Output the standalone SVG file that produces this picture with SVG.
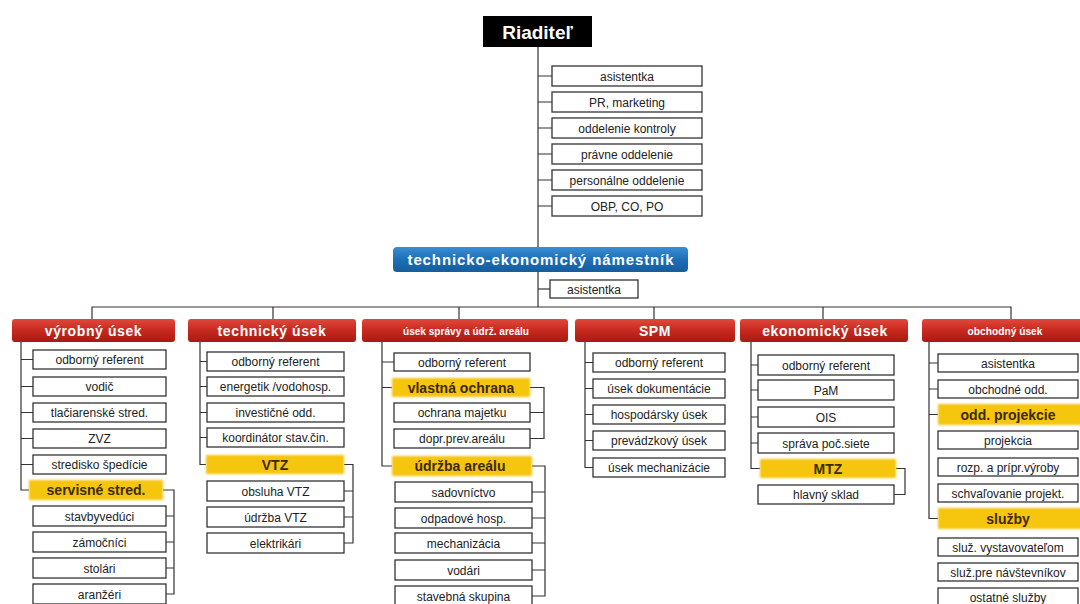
<svg xmlns="http://www.w3.org/2000/svg" width="1080" height="604" viewBox="0 0 1080 604">
  <defs>
    <linearGradient id="redGrad" x1="0" y1="0" x2="0" y2="1">
      <stop offset="0" stop-color="#e0483a"/>
      <stop offset="0.5" stop-color="#c8281e"/>
      <stop offset="1" stop-color="#a81a12"/>
    </linearGradient>
    <linearGradient id="blueGrad" x1="0" y1="0" x2="0" y2="1">
      <stop offset="0" stop-color="#3a8fd4"/>
      <stop offset="0.5" stop-color="#1d6fb8"/>
      <stop offset="1" stop-color="#165d9c"/>
    </linearGradient>
    <filter id="soft" x="-5%" y="-20%" width="110%" height="140%">
      <feGaussianBlur stdDeviation="0.9"/>
    </filter>
  </defs>
  <style>
    .box { fill: #ffffff; stroke: #333333; stroke-width: 1.3; }
    .hl { fill: #f6c510; filter: url(#soft); }
    .hdr { fill: url(#redGrad); }
    .line { fill: none; stroke: #333333; stroke-width: 1.2; }
    .t { font-family: "Liberation Sans", Arial, sans-serif; font-size: 12px; fill: #222222; text-anchor: middle; }
    .tb { font-family: "Liberation Sans", Arial, sans-serif; font-size: 14px; font-weight: bold; fill: #3a2a00; text-anchor: middle; }
    .th { font-family: "Liberation Sans", Arial, sans-serif; font-size: 14px; font-weight: bold; fill: #ffffff; text-anchor: middle; letter-spacing: 0.6px; }
    .ts { font-family: "Liberation Sans", Arial, sans-serif; font-size: 10px; font-weight: bold; fill: #ffffff; text-anchor: middle; }
  </style>

  <rect width="1080" height="604" fill="#ffffff"/>

  <!-- connectors -->
  <g id="connectors" class="line">
    <path d="M538 47 V307"/>
    <path d="M538 76 H552 M538 102 H552 M538 128 H552 M538 154 H552 M538 180 H552 M538 206 H552"/>
    <path d="M538 289 H550"/>
    <path d="M92 319 V307 H1011 V319 M273 307 V319 M459 307 V319 M654 307 V319 M823 307 V319"/>
    <!-- výrobný úsek -->
    <path d="M21 342 V490 H29"/>
    <path d="M21 359.5 H33 M21 386.5 H33 M21 412.5 H33 M21 438.5 H33 M21 464.5 H33"/>
    <path d="M163 490 H174 V594 H166 M166 516 H174 M166 542 H174 M166 568 H174"/>
    <!-- technický úsek -->
    <path d="M200 342 V464.5 H206"/>
    <path d="M200 361.5 H207 M200 386.5 H207 M200 412.5 H207 M200 437.5 H207"/>
    <path d="M344 464.5 H353 V543 H344 M344 491 H353 M344 517 H353"/>
    <!-- úsek správy a údržby areálu -->
    <path d="M382 342 V466 H392 M382 362 H394 M382 387.5 H392"/>
    <path d="M530 387.5 H544 V438.5 H530 M530 412.5 H544"/>
    <path d="M532 466 H545 V596 H532 M532 492 H545 M532 518 H545 M532 543 H545 M532 570 H545"/>
    <!-- SPM -->
    <path d="M585 342 V467.5 H593 M585 362.5 H593 M585 388.5 H593 M585 414.5 H593 M585 440.5 H593"/>
    <!-- ekonomický úsek -->
    <path d="M751 342 V468.5 H760 M751 365 H758 M751 390 H758 M751 417 H758 M751 443 H758"/>
    <path d="M896 468.5 H905 V494.5 H894"/>
    <!-- obchodný úsek -->
    <path d="M929 342 V518.5 H938 M929 363 H938 M929 389 H938 M929 414.5 H938"/>
  </g>

  <!-- top management -->
  <g id="riaditel">
    <rect x="483" y="16" width="109" height="31" fill="#000000"/>
    <text x="537.5" y="38.5" font-family="Liberation Sans, Arial, sans-serif" font-size="19" font-weight="bold" fill="#ffffff" text-anchor="middle">Riaditeľ</text>
  </g>
  <g id="r-asistentka"><rect class="box" x="552" y="66" width="150" height="20"/><text class="t" x="627" y="80.5">asistentka</text></g>
  <g id="r-pr"><rect class="box" x="552" y="92" width="150" height="20"/><text class="t" x="627" y="106.5">PR, marketing</text></g>
  <g id="r-kontrola"><rect class="box" x="552" y="118" width="150" height="20"/><text class="t" x="627" y="132.5">oddelenie kontroly</text></g>
  <g id="r-pravne"><rect class="box" x="552" y="144" width="150" height="20"/><text class="t" x="627" y="158.5">právne oddelenie</text></g>
  <g id="r-personalne"><rect class="box" x="552" y="170" width="150" height="20"/><text class="t" x="627" y="184.5">personálne oddelenie</text></g>
  <g id="r-obp"><rect class="box" x="552" y="196" width="150" height="20"/><text class="t" x="627" y="210.5">OBP, CO, PO</text></g>

  <g id="namestnik">
    <rect x="393" y="247" width="295" height="25" rx="4" fill="url(#blueGrad)"/>
    <text x="540.5" y="265" font-family="Liberation Sans, Arial, sans-serif" font-size="15" font-weight="bold" fill="#ffffff" text-anchor="middle" textLength="266" lengthAdjust="spacing">technicko-ekonomický námestník</text>
  </g>
  <g id="n-asistentka"><rect class="box" x="550" y="280" width="88" height="18"/><text class="t" x="594" y="293.5">asistentka</text></g>

  <!-- department headers -->
  <g id="h-vyrobny"><rect class="hdr" x="12" y="319" width="163" height="23" rx="3"/><text class="th" x="93.5" y="335.5">výrobný úsek</text></g>
  <g id="h-technicky"><rect class="hdr" x="188" y="319" width="168" height="23" rx="3"/><text class="th" x="272" y="335.5">technický úsek</text></g>
  <g id="h-spravy"><rect class="hdr" x="362" y="319" width="206" height="23" rx="3"/><text class="ts" x="466" y="334.5" textLength="126" lengthAdjust="spacingAndGlyphs">úsek správy a údrž. areálu</text></g>
  <g id="h-spm"><rect class="hdr" x="575" y="319" width="160" height="23" rx="3"/><text class="th" x="655" y="335.5">SPM</text></g>
  <g id="h-ekonomicky"><rect class="hdr" x="740" y="319" width="168" height="23" rx="3"/><text class="th" x="825" y="335.5">ekonomický úsek</text></g>
  <g id="h-obchodny"><rect class="hdr" x="922" y="319" width="162" height="23" rx="3"/><text class="ts" x="1005" y="334.5" textLength="75" lengthAdjust="spacingAndGlyphs">obchodný úsek</text></g>

  <!-- výrobný úsek -->
  <g id="v-referent"><rect class="box" x="33" y="350" width="133" height="19"/><text class="t" x="99.5" y="364">odborný referent</text></g>
  <g id="v-vodic"><rect class="box" x="33" y="377" width="133" height="19"/><text class="t" x="99.5" y="391">vodič</text></g>
  <g id="v-tlaciarenske"><rect class="box" x="33" y="403" width="133" height="19"/><text class="t" x="99.5" y="417">tlačiarenské stred.</text></g>
  <g id="v-zvz"><rect class="box" x="33" y="429" width="133" height="19"/><text class="t" x="99.5" y="443">ZVZ</text></g>
  <g id="v-spedicia"><rect class="box" x="33" y="455" width="133" height="19"/><text class="t" x="99.5" y="469">stredisko špedície</text></g>
  <g id="v-servisne"><rect class="hl" x="29" y="480" width="134" height="20"/><text class="tb" x="96" y="495">servisné stred.</text></g>
  <g id="v-stavbyveduci"><rect class="box" x="33" y="506" width="133" height="20"/><text class="t" x="99.5" y="520.5">stavbyvedúci</text></g>
  <g id="v-zamocnici"><rect class="box" x="33" y="532" width="133" height="20"/><text class="t" x="99.5" y="546.5">zámočníci</text></g>
  <g id="v-stolari"><rect class="box" x="33" y="558" width="133" height="20"/><text class="t" x="99.5" y="572.5">stolári</text></g>
  <g id="v-aranzeri"><rect class="box" x="33" y="584" width="133" height="20"/><text class="t" x="99.5" y="598.5">aranžéri</text></g>

  <!-- technický úsek -->
  <g id="t-referent"><rect class="box" x="207" y="352" width="137" height="19"/><text class="t" x="275.5" y="366">odborný referent</text></g>
  <g id="t-energetik"><rect class="box" x="207" y="377" width="137" height="19"/><text class="t" x="275.5" y="391">energetik /vodohosp.</text></g>
  <g id="t-investicne"><rect class="box" x="207" y="403" width="137" height="19"/><text class="t" x="275.5" y="417">investičné odd.</text></g>
  <g id="t-koordinator"><rect class="box" x="207" y="428" width="137" height="19"/><text class="t" x="275.5" y="442">koordinátor stav.čin.</text></g>
  <g id="t-vtz"><rect class="hl" x="206" y="455" width="138" height="19"/><text class="tb" x="275" y="469.5">VTZ</text></g>
  <g id="t-obsluha"><rect class="box" x="207" y="481" width="137" height="20"/><text class="t" x="275.5" y="495.5">obsluha VTZ</text></g>
  <g id="t-udrzba"><rect class="box" x="207" y="507" width="137" height="20"/><text class="t" x="275.5" y="521.5">údržba VTZ</text></g>
  <g id="t-elektrikari"><rect class="box" x="207" y="533" width="137" height="20"/><text class="t" x="275.5" y="547.5">elektrikári</text></g>

  <!-- úsek správy a údržby areálu -->
  <g id="s-referent"><rect class="box" x="394" y="353" width="136" height="18"/><text class="t" x="462" y="366.5">odborný referent</text></g>
  <g id="s-ochrana"><rect class="hl" x="392" y="378" width="138" height="19"/><text class="tb" x="461" y="392.5">vlastná ochrana</text></g>
  <g id="s-majetok"><rect class="box" x="394" y="403" width="136" height="19"/><text class="t" x="462" y="417">ochrana majetku</text></g>
  <g id="s-dopr"><rect class="box" x="394" y="429" width="136" height="19"/><text class="t" x="462" y="443">dopr.prev.areálu</text></g>
  <g id="s-udrzba"><rect class="hl" x="392" y="456" width="140" height="20"/><text class="tb" x="460" y="471">údržba areálu</text></g>
  <g id="s-sadovnictvo"><rect class="box" x="395" y="482" width="137" height="20"/><text class="t" x="463.5" y="496.5">sadovníctvo</text></g>
  <g id="s-odpadove"><rect class="box" x="395" y="508" width="137" height="20"/><text class="t" x="463.5" y="522.5">odpadové hosp.</text></g>
  <g id="s-mechanizacia"><rect class="box" x="395" y="533" width="137" height="20"/><text class="t" x="463.5" y="547.5">mechanizácia</text></g>
  <g id="s-vodari"><rect class="box" x="395" y="560" width="137" height="20"/><text class="t" x="463.5" y="574.5">vodári</text></g>
  <g id="s-stavebna"><rect class="box" x="395" y="586" width="137" height="20"/><text class="t" x="463.5" y="600.5">stavebná skupina</text></g>

  <!-- SPM -->
  <g id="p-referent"><rect class="box" x="593" y="353" width="132" height="19"/><text class="t" x="659" y="367">odborný referent</text></g>
  <g id="p-dokumentacia"><rect class="box" x="593" y="379" width="132" height="19"/><text class="t" x="659" y="393">úsek dokumentácie</text></g>
  <g id="p-hospodarsky"><rect class="box" x="593" y="405" width="132" height="19"/><text class="t" x="659" y="419">hospodársky úsek</text></g>
  <g id="p-prevadzkovy"><rect class="box" x="593" y="431" width="132" height="19"/><text class="t" x="659" y="445">prevádzkový úsek</text></g>
  <g id="p-mechanizacia"><rect class="box" x="593" y="458" width="132" height="19"/><text class="t" x="659" y="472">úsek mechanizácie</text></g>

  <!-- ekonomický úsek -->
  <g id="e-referent"><rect class="box" x="758" y="355" width="136" height="20"/><text class="t" x="826" y="369.5">odborný referent</text></g>
  <g id="e-pam"><rect class="box" x="758" y="380" width="136" height="20"/><text class="t" x="826" y="394.5">PaM</text></g>
  <g id="e-ois"><rect class="box" x="758" y="407" width="136" height="20"/><text class="t" x="826" y="421.5">OIS</text></g>
  <g id="e-sprava"><rect class="box" x="758" y="433" width="136" height="20"/><text class="t" x="826" y="447.5">správa poč.siete</text></g>
  <g id="e-mtz"><rect class="hl" x="760" y="459" width="136" height="19"/><text class="tb" x="828" y="473.5">MTZ</text></g>
  <g id="e-sklad"><rect class="box" x="758" y="485" width="136" height="19"/><text class="t" x="826" y="499">hlavný sklad</text></g>

  <!-- obchodný úsek -->
  <g id="o-asistentka"><rect class="box" x="938" y="354" width="140" height="18"/><text class="t" x="1008" y="367.5">asistentka</text></g>
  <g id="o-obchodne"><rect class="box" x="938" y="380" width="140" height="18"/><text class="t" x="1008" y="393.5">obchodné odd.</text></g>
  <g id="o-projekcie"><rect class="hl" x="938" y="404" width="144" height="21"/><text class="tb" x="1008" y="419.5">odd. projekcie</text></g>
  <g id="o-projekcia"><rect class="box" x="938" y="431" width="140" height="18"/><text class="t" x="1008" y="444.5">projekcia</text></g>
  <g id="o-rozp"><rect class="box" x="938" y="458" width="140" height="18"/><text class="t" x="1008" y="471.5">rozp. a prípr.výroby</text></g>
  <g id="o-schvalovanie"><rect class="box" x="938" y="484" width="140" height="18"/><text class="t" x="1008" y="497.5">schvaľovanie projekt.</text></g>
  <g id="o-sluzby"><rect class="hl" x="938" y="508" width="144" height="21"/><text class="tb" x="1008" y="523.5">služby</text></g>
  <g id="o-vystavovatelom"><rect class="box" x="938" y="538" width="140" height="18"/><text class="t" x="1008" y="551.5">služ. vystavovateľom</text></g>
  <g id="o-navstevnikov"><rect class="box" x="938" y="563" width="140" height="18"/><text class="t" x="1008" y="576.5">služ.pre návštevníkov</text></g>
  <g id="o-ostatne"><rect class="box" x="938" y="588" width="140" height="18"/><text class="t" x="1008" y="601.5">ostatné služby</text></g>
</svg>
